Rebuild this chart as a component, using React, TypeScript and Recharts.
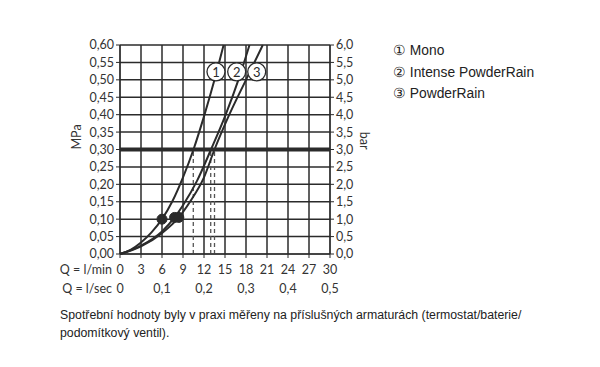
import React from "react";
import {
  LineChart,
  Line,
  XAxis,
  YAxis,
  CartesianGrid,
  ReferenceLine,
  ReferenceDot,
} from "recharts";

// flow in l/min -> pressure in MPa
const monoData = [
  { q: 0, p: 0 },
  { q: 1.5, p: 0.012 },
  { q: 3, p: 0.033 },
  { q: 4.5, p: 0.062 },
  { q: 6, p: 0.1 },
  { q: 7.5, p: 0.152 },
  { q: 9, p: 0.22 },
  { q: 10.5, p: 0.3 },
  { q: 12, p: 0.395 },
  { q: 13.5, p: 0.5 },
  { q: 14.8, p: 0.6 },
];
const intenseData = [
  { q: 0, p: 0 },
  { q: 3, p: 0.024 },
  { q: 6, p: 0.065 },
  { q: 7.8, p: 0.105 },
  { q: 9, p: 0.14 },
  { q: 11, p: 0.21 },
  { q: 13, p: 0.3 },
  { q: 15, p: 0.395 },
  { q: 17, p: 0.505 },
  { q: 18.5, p: 0.6 },
];
const powderData = [
  { q: 0, p: 0 },
  { q: 3, p: 0.022 },
  { q: 6, p: 0.06 },
  { q: 8.4, p: 0.105 },
  { q: 10, p: 0.15 },
  { q: 12, p: 0.22 },
  { q: 13.5, p: 0.3 },
  { q: 15.5, p: 0.395 },
  { q: 18, p: 0.5 },
  { q: 20.4, p: 0.6 },
];

const markerDots = [
  { q: 6, p: 0.1 },
  { q: 7.8, p: 0.105 },
  { q: 8.4, p: 0.105 },
];
const crossFlows = [10.47, 12.96, 13.5];
const circleTags = [
  { q: 13.71, p: 0.523, tag: "1" },
  { q: 16.67, p: 0.523, tag: "2" },
  { q: 19.53, p: 0.523, tag: "3" },
];

const minTicks = [0, 3, 6, 9, 12, 15, 18, 21, 24, 27, 30];
const secTicks = [0, 0.1, 0.2, 0.3, 0.4, 0.5];
const mpaTicks = [0, 0.05, 0.1, 0.15, 0.2, 0.25, 0.3, 0.35, 0.4, 0.45, 0.5, 0.55, 0.6];
const barTicks = [0, 0.5, 1, 1.5, 2, 2.5, 3, 3.5, 4, 4.5, 5, 5.5, 6];
const legendItems = ["① Mono", "② Intense PowderRain", "③ PowderRain"];

// invisible helpers so the secondary axes get a domain
const barRange = [{ q: 0, b: 0 }, { q: 30, b: 6 }];
const secRange = secTicks.map((s) => ({ s, p: 0 }));

const ink = "#2b2b2b";
const axisFont = "Lato, 'Open Sans', sans-serif";
const comma = (v: number, d: number) => (d === 0 ? String(v) : v.toFixed(d).replace(".", ","));
const tick = { fill: "#333", fontSize: 12.5, fontFamily: axisFont };

const CircleTag = (props: any) => {
  const { cx, cy, tag } = props;
  return (
    <g>
      <circle cx={cx} cy={cy} r={9} fill="#fff" stroke={ink} strokeWidth={1.3} />
      <text x={cx} y={cy + 5} textAnchor="middle" fontSize={13} fontFamily={axisFont} fill={ink}>
        {tag}
      </text>
    </g>
  );
};

const RowLabel = (text: string, dy: number) => (props: any) => {
  const vb = props.viewBox || {};
  return (
    <text x={vb.x - 8} y={vb.y + dy} textAnchor="end" fontSize={12.5} fontFamily={axisFont} fill="#333">
      {text}
    </text>
  );
};

export default function App() {
  return (
    <div style={{ position: "absolute", left: 0, top: 0, width: 600, height: 367, background: "#fff" }}>
      <LineChart
        width={400}
        height={300}
        margin={{ top: 45, left: 75, right: 30, bottom: 6 }}
        style={{ position: "absolute", left: 0, top: 0 }}
      >
        <CartesianGrid xAxisId="min" yAxisId="mpa" stroke={ink} strokeWidth={1.5} strokeOpacity={1} />
        <XAxis
          xAxisId="min"
          type="number"
          dataKey="q"
          domain={[0, 30]}
          ticks={minTicks}
          height={20}
          tick={tick}
          tickSize={4}
          tickMargin={7}
          stroke={ink}
          interval={0}
          label={{ content: RowLabel("Q = l/min", 20) }}
        />
        <XAxis
          xAxisId="sec"
          type="number"
          dataKey="s"
          domain={[0, 0.5]}
          ticks={secTicks}
          height={20}
          tick={tick}
          tickFormatter={(v: number) => comma(v, v === 0 ? 0 : 1)}
          axisLine={false}
          tickLine={false}
          tickSize={0}
          tickMargin={10}
          interval={0}
          label={{ content: RowLabel("Q = l/sec", 19) }}
        />
        <YAxis
          yAxisId="mpa"
          type="number"
          domain={[0, 0.6]}
          ticks={mpaTicks}
          width={45}
          tick={tick}
          tickSize={4}
          tickMargin={2}
          stroke={ink}
          interval={0}
          tickFormatter={(v: number) => comma(v, 2)}
          label={{ value: "MPa", angle: -90, position: "insideLeft", offset: 2, fill: "#333", fontSize: 12.5, fontFamily: axisFont }}
        />
        <YAxis
          yAxisId="bar"
          orientation="right"
          type="number"
          dataKey="b"
          domain={[0, 6]}
          ticks={barTicks}
          width={40}
          tick={tick}
          tickSize={4}
          tickMargin={2}
          stroke={ink}
          interval={0}
          tickFormatter={(v: number) => comma(v, 1)}
          label={{ value: "bar", angle: 90, position: "insideRight", offset: 6, fill: "#333", fontSize: 12.5, fontFamily: axisFont }}
        />
        <Line xAxisId="min" yAxisId="bar" data={barRange} dataKey="b" stroke="none" dot={false} activeDot={false} isAnimationActive={false} />
        <Line xAxisId="sec" yAxisId="mpa" data={secRange} dataKey="p" stroke="none" dot={false} activeDot={false} isAnimationActive={false} />
        {crossFlows.map((q) => (
          <ReferenceLine
            key={q}
            xAxisId="min"
            yAxisId="mpa"
            segment={[{ x: q, y: 0 }, { x: q, y: 0.3 }]}
            stroke="#555"
            strokeWidth={1.3}
            strokeDasharray="4 3"
          />
        ))}
        <ReferenceLine xAxisId="min" yAxisId="bar" y={3} stroke={ink} strokeWidth={4} />
        <Line xAxisId="min" yAxisId="mpa" data={monoData} dataKey="p" type="monotone" stroke={ink} strokeWidth={2} dot={false} isAnimationActive={false} />
        <Line xAxisId="min" yAxisId="mpa" data={intenseData} dataKey="p" type="monotone" stroke={ink} strokeWidth={2} dot={false} isAnimationActive={false} />
        <Line xAxisId="min" yAxisId="mpa" data={powderData} dataKey="p" type="monotone" stroke={ink} strokeWidth={2} dot={false} isAnimationActive={false} />
        {markerDots.map((d, i) => (
          <ReferenceDot key={i} xAxisId="min" yAxisId="mpa" x={d.q} y={d.p} r={5} fill={ink} stroke={ink} />
        ))}
        {circleTags.map((c) => (
          <ReferenceDot
            key={c.tag}
            xAxisId="min"
            yAxisId="mpa"
            x={c.q}
            y={c.p}
            r={9}
            shape={(props: any) => <CircleTag {...props} tag={c.tag} />}
          />
        ))}
      </LineChart>
      <div style={{ position: "absolute", left: 393, top: 40, fontFamily: "'Liberation Sans', Arial, sans-serif", fontSize: 13.8, color: "#222", lineHeight: "21.5px" }}>
        {legendItems.map((t) => (
          <div key={t}>{t}</div>
        ))}
      </div>
      <div style={{ position: "absolute", left: 60, top: 306, whiteSpace: "nowrap", fontFamily: "'Liberation Sans', Arial, sans-serif", fontSize: 12.3, color: "#222", lineHeight: "18px" }}>
        Spotřební hodnoty byly v praxi měřeny na příslušných armaturách (termostat/baterie/
        <br />
        podomítkový ventil).
      </div>
    </div>
  );
}
